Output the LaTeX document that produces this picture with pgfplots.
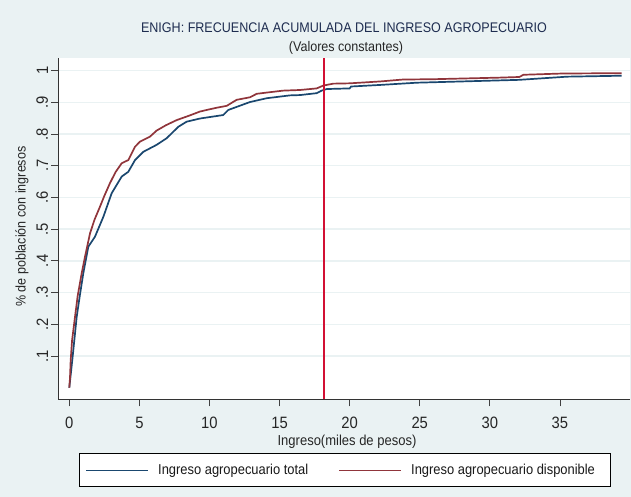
\documentclass[border=0pt]{standalone}
\usepackage{fontspec}
\setmainfont{Liberation Sans}[FakeStretch=0.9]
\usepackage{pgfplots}
\pgfplotsset{compat=1.18}
\definecolor{bgc}{RGB}{234,242,243}
\definecolor{gridc}{RGB}{234,242,243}
\definecolor{navyc}{RGB}{26,71,111}
\definecolor{maroonc}{RGB}{144,53,59}
\definecolor{vred}{RGB}{210,16,52}
\definecolor{titlec}{RGB}{30,45,80}
\begin{document}
\begin{tikzpicture}[x=1bp,y=1bp]
\fill[bgc] (0,0) rectangle (631,497);
\draw[black, line width=0.6bp, fill=white] (79.3,11) rectangle (610,43.7);
\begin{axis}[
  at={(58.3bp,97.7bp)}, anchor=south west,
  width=571.7bp, height=341bp, scale only axis,
  xmin=-0.784, xmax=40, ymin=-0.0366, ymax=1.039,
  axis x line*=bottom, axis y line*=left,
  axis background/.style={fill=white},
  axis line style={black!80, line width=0.9bp},
  tick align=outside, major tick length=7bp,
  tick style={black!75, line width=0.8bp},
  xtick={0,5,10,15,20,25,30,35},
  ytick={0.1,0.2,0.3,0.4,0.5,0.6,0.7,0.8,0.9,1},
  yticklabels={.1,.2,.3,.4,.5,.6,.7,.8,.9,1},
  ymajorgrids, grid style={gridc, line width=1.4bp},
  /pgf/number format/assume math mode=true,
  ticklabel style={font=\fontsize{16.5}{18}\selectfont, text=black!85},
  yticklabel style={xshift=-3bp, rotate=90, anchor=south, inner sep=0pt},
  xticklabel style={yshift=-11bp, anchor=north, inner sep=0pt},
]
\addplot[draw=navyc, line width=1.7bp] coordinates {
(0,0.0) (0.1,0.04) (0.24,0.098) (0.53,0.224) (0.75,0.29) (1.0,0.361)
(1.36,0.445) (1.83,0.476) (2.43,0.539) (3.02,0.613) (3.74,0.666)
(4.21,0.681) (4.69,0.718) (5.28,0.744) (6.23,0.766) (6.95,0.787)
(7.78,0.823) (8.37,0.839) (9.32,0.849) (10.98,0.860) (11.34,0.876)
(12.89,0.901) (14.08,0.913) (15.74,0.922) (16.46,0.923) (17.65,0.929)
(18.0,0.937) (18.36,0.942) (20.0,0.944) (20.1,0.950) (22.2,0.955)
(24.8,0.962) (32.1,0.971) (33.8,0.976) (35.5,0.981) (39.4,0.984)
};
\addplot[draw=maroonc, line width=1.7bp] coordinates {
(0,0.0) (0.05,0.03) (0.1,0.087) (0.2,0.15) (0.41,0.224) (0.6,0.29)
(0.88,0.36) (1.12,0.413) (1.48,0.487) (1.8,0.53) (2.19,0.571) (2.5,0.605)
(2.9,0.645) (3.3,0.68) (3.74,0.708) (4.21,0.718) (4.69,0.760) (5.04,0.776)
(5.76,0.792) (6.23,0.811) (6.9,0.828) (7.66,0.844) (8.61,0.859) (9.32,0.871)
(10.0,0.878) (10.51,0.883) (11.23,0.889) (11.94,0.908) (12.89,0.916)
(13.37,0.927) (14.3,0.932) (15.26,0.937) (16.46,0.939) (17.65,0.944)
(18.12,0.953) (18.83,0.959) (20.0,0.960) (22.2,0.966) (23.8,0.972)
(25.96,0.973) (30.7,0.978) (32.1,0.980) (32.4,0.987) (35.2,0.991) (39.4,0.992)
};
\addplot[draw=vred, line width=1.3bp] coordinates {(18.17,-0.0366) (18.17,1.039)};
\end{axis}
% legend
\draw[navyc, line width=1.7bp] (86,26.5) -- (148,26.5);
\node[anchor=base west, inner sep=0pt, text=black!90, font=\fontsize{14.4}{16}\selectfont] at (158,22.3) {Ingreso agropecuario total};
\draw[maroonc, line width=1.7bp] (339,26.5) -- (401,26.5);
\node[anchor=base west, inner sep=0pt, text=black!90, font=\fontsize{14.4}{16}\selectfont] at (411,22.3) {Ingreso agropecuario disponible};
% titles and labels
\node[anchor=base, text=titlec, font=\fontsize{14}{16}\selectfont] at (344,464.7) {ENIGH: FRECUENCIA ACUMULADA DEL INGRESO AGROPECUARIO};
\node[anchor=base, text=black!85, font=\fontsize{14}{16}\selectfont] at (346,445.5) {(Valores constantes)};
\node[anchor=base, text=black!85, font=\fontsize{14.5}{16}\selectfont] at (347,51) {Ingreso(miles de pesos)};
\node[anchor=base, rotate=90, text=black!85, font=\fontsize{14}{16}\selectfont] at (25.5,270.3) {\% de población con ingresos};
\end{tikzpicture}
\end{document}
